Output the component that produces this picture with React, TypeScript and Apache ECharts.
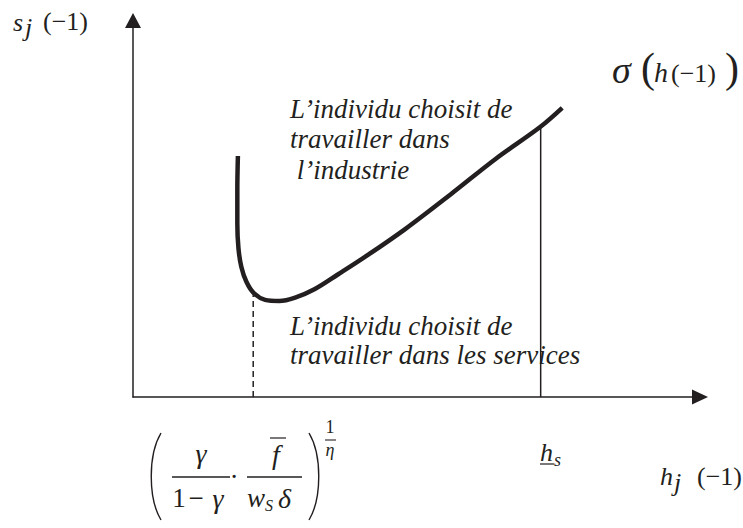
import React, { useEffect, useRef } from "react";
import * as echarts from "echarts";

// Threshold curve sigma(h(-1)) in (h_j(-1), s_j(-1)) space, in axis units (0..100)
const curveH = [18.5, 18.4, 18.4, 18.6, 19.1, 20.0, 21.3, 23.3, 25.8, 28.6, 32.0, 36.2, 41.5, 48.0, 56.0, 64.0, 71.8, 75.7];
const curveS = [64.0, 55.0, 46.0, 39.5, 34.6, 30.6, 27.6, 25.8, 25.5, 26.4, 28.6, 32.6, 37.8, 44.6, 53.8, 63.3, 71.7, 76.8];

// Dashed guide from the bottom of the curve down to the h axis
const guideH = [21.2, 21.2];
const guideS = [0, 27.0];

// Vertical line at the level h_s
const hsH = [71.9, 71.9];
const hsS = [0, 71.6];

const INK = "#231f20";
const SERIF = "Liberation Serif, Times New Roman, DejaVu Serif";

type TOpts = {
  size?: number;
  italic?: boolean;
  align?: "left" | "center" | "right";
};

function txt(x: number, y: number, text: string, o: TOpts = {}) {
  return {
    type: "text",
    x,
    y,
    silent: true,
    style: {
      text,
      fill: INK,
      fontFamily: SERIF,
      fontSize: o.size ?? 26,
      fontStyle: o.italic ? "italic" : "normal",
      align: o.align ?? "left",
      verticalAlign: "middle",
    },
  };
}

function seg(x1: number, y1: number, x2: number, y2: number, w = 1.3) {
  return {
    type: "line",
    silent: true,
    shape: { x1, y1, x2, y2 },
    style: { stroke: INK, lineWidth: w },
  };
}

function paren(x1: number, xc: number, yTop: number, yBot: number) {
  return {
    type: "bezierCurve",
    silent: true,
    shape: {
      x1,
      y1: yTop,
      cpx1: xc,
      cpy1: yTop + (yBot - yTop) * 0.25,
      cpx2: xc,
      cpy2: yBot - (yBot - yTop) * 0.25,
      x2: x1,
      y2: yBot,
    },
    style: { stroke: INK, lineWidth: 1.4, fill: "none" },
  };
}

const zip = (a: number[], b: number[]) => a.map((v, i) => [v, b[i]]);

export default function App() {
  const ref = useRef<HTMLDivElement>(null);

  useEffect(() => {
    if (!ref.current) return;
    const chart = echarts.init(ref.current, null, { renderer: "svg" });

    const axisCommon = {
      type: "value" as const,
      min: 0,
      max: 100,
      axisTick: { show: false },
      axisLabel: { show: false },
      splitLine: { show: false },
    };

    chart.setOption({
      animation: false,
      backgroundColor: "#ffffff",
      grid: { left: 133, right: 43, top: 20.5, bottom: 131 },
      xAxis: {
        ...axisCommon,
        axisLine: {
          show: true,
          symbol: ["none", "triangle"],
          symbolSize: [15, 16],
          lineStyle: { color: INK, width: 1.5 },
        },
      },
      yAxis: {
        ...axisCommon,
        axisLine: {
          show: true,
          symbol: ["none", "triangle"],
          symbolSize: [16, 15],
          lineStyle: { color: INK, width: 1.5 },
        },
      },
      series: [
        {
          type: "line",
          data: zip(curveH, curveS),
          smooth: 0.35,
          symbol: "none",
          lineStyle: { color: INK, width: 4.5 },
          z: 3,
        },
        {
          type: "line",
          data: zip(guideH, guideS),
          symbol: "none",
          lineStyle: { color: INK, width: 1.5, type: [6, 4] },
          z: 2,
        },
        {
          type: "line",
          data: zip(hsH, hsS),
          symbol: "none",
          lineStyle: { color: INK, width: 1.5 },
          z: 2,
        },
      ],
      graphic: [
        // s_j(-1)
        txt(13, 22, "s", { italic: true }),
        txt(25, 27, "j", { italic: true }),
        txt(43, 21, "(−1)"),
        // sigma(h(-1))
        txt(612, 70, "σ", { italic: true, size: 38 }),
        txt(641, 68, "(", { size: 42 }),
        txt(654, 72, "h", { italic: true, size: 28 }),
        txt(671, 73, "(−1)"),
        txt(725, 68, ")", { size: 42 }),
        // regions
        txt(290, 109, "L’individu choisit de", { italic: true, size: 27 }),
        txt(290, 139, "travailler dans", { italic: true, size: 27 }),
        txt(290, 170, " l’industrie", { italic: true, size: 27 }),
        txt(290, 326, "L’individu choisit de", { italic: true, size: 27 }),
        txt(290, 355, "travailler dans les services", { italic: true, size: 27 }),
        // h_s
        txt(540, 452, "h", { italic: true }),
        txt(554, 460, "s", { italic: true, size: 18 }),
        seg(540, 464, 554, 464, 1.2),
        // h_j(-1)
        txt(660, 476, "h", { italic: true }),
        txt(674, 482, "j", { italic: true }),
        txt(697, 476, "(−1)"),
        // ( gamma/(1-gamma) . fbar/(w_S delta) )^(1/eta)
        paren(161, 148, 433, 520),
        paren(309, 322, 433, 520),
        txt(201, 453, "γ", { italic: true, size: 28, align: "center" }),
        seg(172, 477, 230, 477),
        txt(179, 498, "1", { size: 27, align: "center" }),
        txt(196, 498, "−", { size: 27, align: "center" }),
        txt(218, 498, "γ", { italic: true, size: 28, align: "center" }),
        txt(234, 469, ".", { size: 27, align: "center" }),
        txt(276, 454, "f", { italic: true, size: 28, align: "center" }),
        seg(270, 438, 286, 438, 1.2),
        seg(247, 477, 302, 477),
        txt(247, 498, "w", { italic: true, size: 27 }),
        txt(265, 505, "S", { italic: true, size: 16 }),
        txt(278, 498, "δ", { italic: true, size: 28 }),
        txt(330, 427, "1", { size: 18, align: "center" }),
        seg(325, 440, 336, 440, 1.1),
        txt(330, 450, "η", { italic: true, size: 18, align: "center" }),
      ],
    });

    return () => chart.dispose();
  }, []);

  return (
    <div
      ref={ref}
      style={{ position: "fixed", left: 0, top: 0, width: 743, height: 528, background: "#fff" }}
    />
  );
}
